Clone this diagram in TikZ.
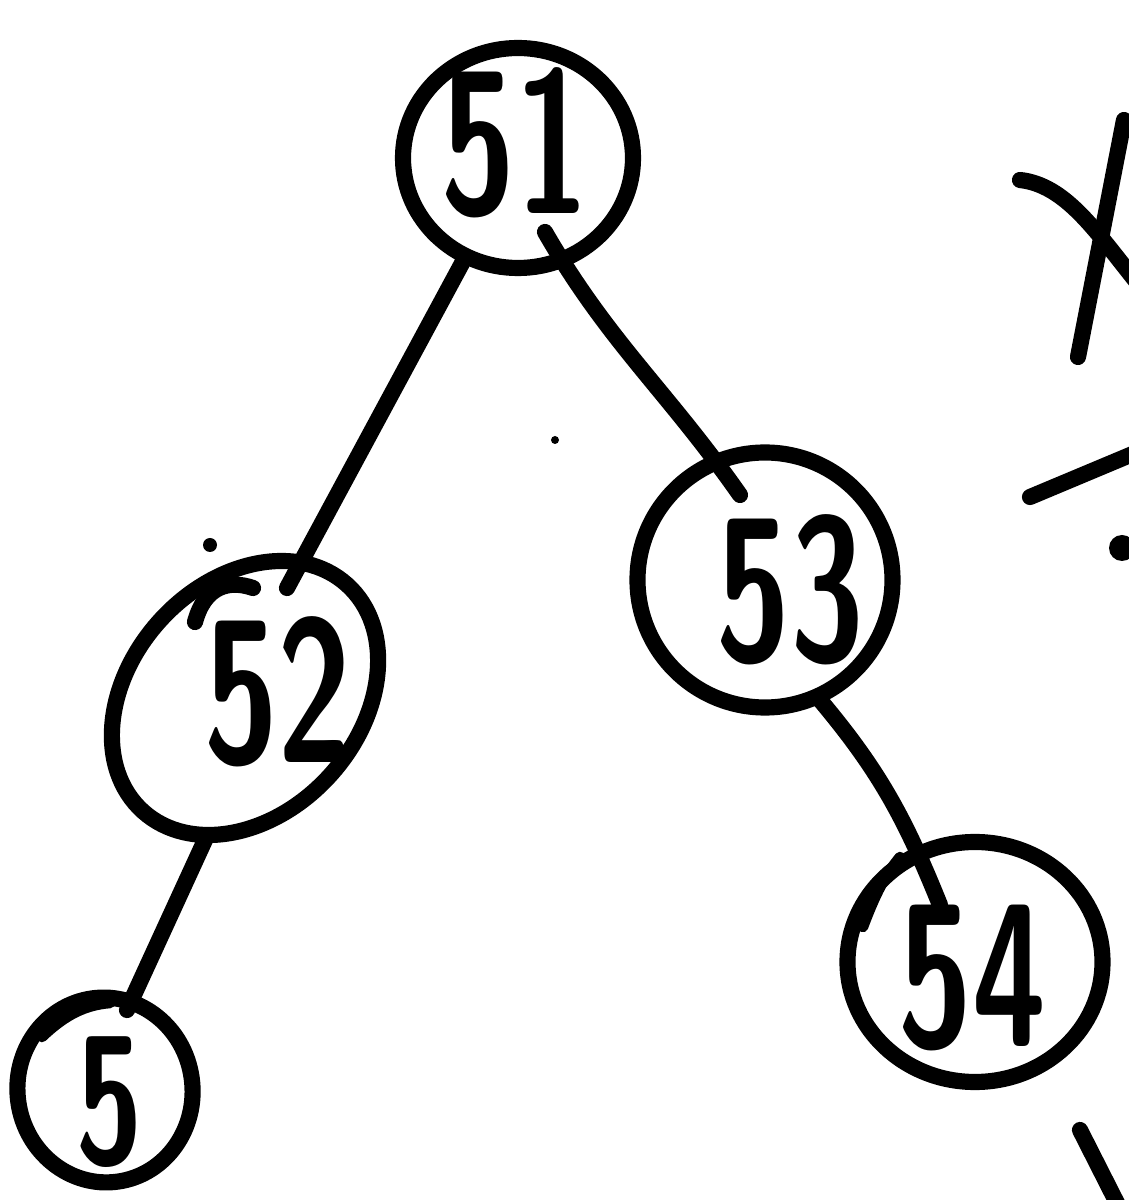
\documentclass[tikz,border=0pt]{standalone}
\usetikzlibrary{shapes.geometric}
\newcommand{\hand}[1]{\scalebox{0.66}[1]{#1}}
\begin{document}
\begin{tikzpicture}[line width=4.6pt, line cap=round,
  ball/.style={draw,ellipse,inner sep=0pt},
  num/.style={font=\fontsize{58}{58}\selectfont\sffamily\bfseries,inner sep=0pt}]
\clip (0,0) rectangle (11.29,12);
\node[ball,minimum width=2.3cm,minimum height=2.2cm] (root) at (5.18,10.42) {};
\node[ball,minimum width=3.05cm,minimum height=2.3cm,rotate=48] (lft) at (2.45,5.02) {};
\node[ball,minimum width=2.55cm,minimum height=2.55cm] (rgt) at (7.65,6.20) {};
\node[ball,minimum width=2.55cm,minimum height=2.4cm] (rr) at (9.75,2.38) {};
\node[ball,minimum width=1.75cm,minimum height=1.85cm,rotate=8] (ll) at (1.05,1.10) {};
\node[num] (n51) at (5.15,10.57) {\hand{51}};
\node[num] (n52) at (2.78,5.08) {\hand{52}};
\node[num] (n53) at (7.90,6.10) {\hand{53}};
\node[num] (n54) at (9.72,2.22) {\hand{54}};
\node[num,font=\fontsize{52}{52}\selectfont\sffamily\bfseries] (n5) at (1.10,0.98) {\hand{5}};
\draw (root.-118) -- ([shift={(0.42,1.10)}]lft.center);
\draw ([shift={(0.27,-0.74)}]root.center) to[out=-60,in=125] ([shift={(-0.25,0.85)}]rgt.center);
\draw ([shift={(0.55,-1.20)}]rgt.center) to[out=-50,in=112] ([shift={(-0.35,0.57)}]rr.center);
\draw ([shift={(-0.40,-1.42)}]lft.center) -- ([shift={(0.22,0.80)}]ll.center);
% loose strokes of the hand drawing
\draw (1.95,5.78) .. controls (2.05,6.15) and (2.3,6.2) .. (2.53,6.12);
\draw[line width=3pt] (8.63,2.73) .. controls (8.75,3.05) and (8.85,3.25) .. (9.00,3.43);
\draw[line width=3pt] (0.42,1.63) .. controls (0.65,1.85) and (0.85,1.95) .. (1.10,1.97);
\fill (2.10,6.55) circle (0.07);
\fill (5.55,7.60) circle (0.04);
\draw (10.20,10.20) .. controls (10.65,10.15) and (10.95,9.7) .. (11.35,9.2);
\draw (11.24,10.8) -- (10.78,8.43);
\draw (10.30,7.03) -- (11.35,7.47);
\fill (11.22,6.52) circle (0.13);
\draw (10.80,0.70) -- (11.18,-0.05);
\end{tikzpicture}
\end{document}
